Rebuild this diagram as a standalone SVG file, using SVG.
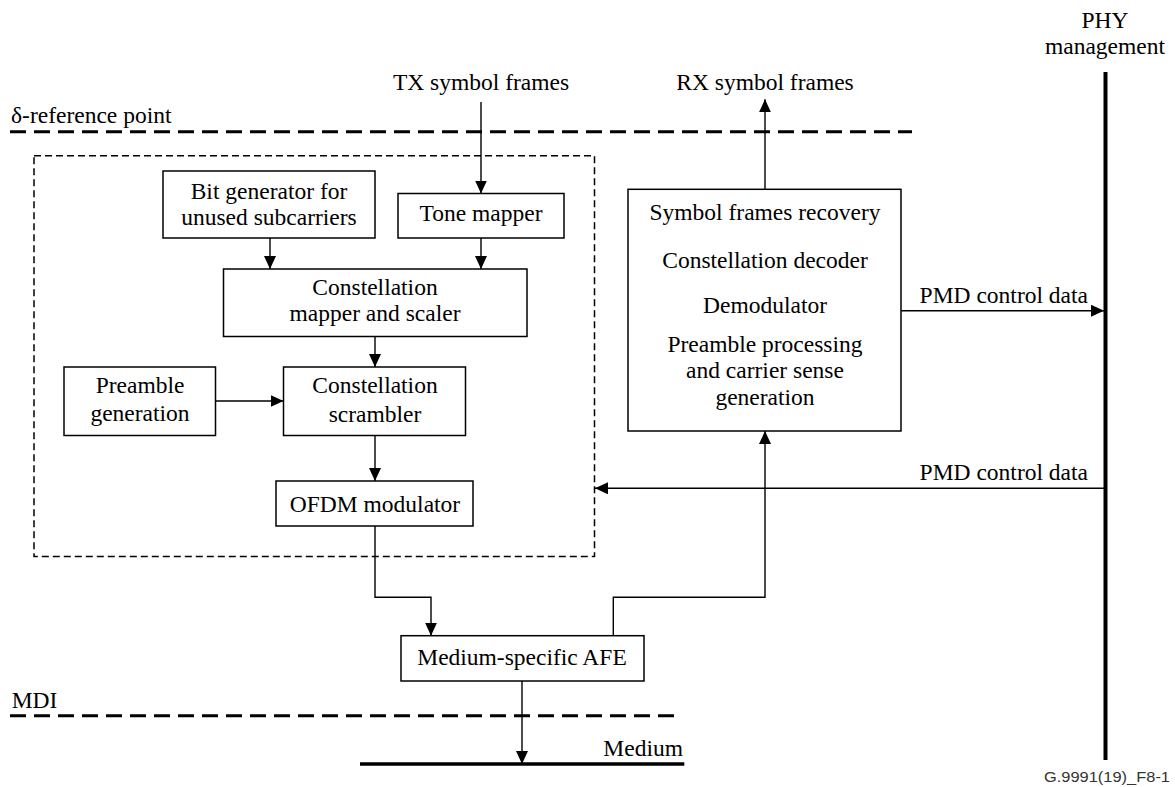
<svg xmlns="http://www.w3.org/2000/svg" width="1175" height="787" viewBox="0 0 1175 787" font-family="'Liberation Serif', 'DejaVu Serif', serif">
<style>
text{font-family:"Liberation Serif","Times New Roman","DejaVu Serif",serif;font-size:23.5px;fill:#000}
.c{text-anchor:middle}
.box{fill:#fff;stroke:#000;stroke-width:1.5}
.ln{fill:none;stroke:#000;stroke-width:1.4}
.arr{marker-end:url(#ah)}
.dash{fill:none;stroke:#000;stroke-width:3;stroke-dasharray:16 8}
.idash{fill:none;stroke:#000;stroke-width:1.5;stroke-dasharray:7 4}
text.fig{font-family:"Liberation Sans",Arial,sans-serif;font-size:14px;fill:#333}
</style>
<defs>
<marker id="ah" markerUnits="userSpaceOnUse" markerWidth="14" markerHeight="12" refX="13" refY="6" orient="auto">
<path d="M0,0 L13,6 L0,12 z" fill="#000"/>
</marker>
</defs>

<g id="reference-lines">
<line class="dash" x1="10" y1="131.7" x2="912" y2="131.7"/>
<text x="11" y="123">δ-reference point</text>
<line class="dash" x1="10" y1="715.7" x2="680" y2="715.7"/>
<text x="11.7" y="708">MDI</text>
<line x1="360" y1="764" x2="684.3" y2="764" stroke="#000" stroke-width="3.5"/>
<text x="683" y="755.7" text-anchor="end">Medium</text>
<line x1="1105.5" y1="72" x2="1105.5" y2="760" stroke="#000" stroke-width="4"/>
<text class="c" x="1105" y="28">PHY</text>
<text class="c" x="1105" y="54">management</text>
<text class="c" x="481" y="90">TX symbol frames</text>
<text class="c" x="765" y="90">RX symbol frames</text>
<rect class="idash" x="34" y="155.7" width="560.5" height="400.8"/>
<text class="fig" x="1170" y="782" text-anchor="end" textLength="126" lengthAdjust="spacingAndGlyphs">G.9991(19)_F8-1</text>
</g>

<g id="connectors">
<line class="ln arr" x1="481" y1="102" x2="481" y2="193.5"/>
<line class="ln arr" x1="765" y1="189.3" x2="765" y2="99.3"/>
<line class="ln arr" x1="270" y1="238" x2="270" y2="269"/>
<line class="ln arr" x1="481" y1="238" x2="481" y2="269"/>
<line class="ln arr" x1="375" y1="336.5" x2="375" y2="367"/>
<line class="ln arr" x1="215.5" y1="401" x2="283.5" y2="401"/>
<line class="ln arr" x1="375" y1="435.5" x2="375" y2="481"/>
<polyline class="ln arr" points="375,526 375,597.3 431,597.3 431,635.7"/>
<polyline class="ln arr" points="613.3,635.7 613.3,597.3 765,597.3 765,431"/>
<line class="ln arr" x1="522" y1="681" x2="522" y2="764"/>
<line class="ln arr" x1="901" y1="310.7" x2="1104" y2="310.7"/>
<text x="1088" y="303" text-anchor="end">PMD control data</text>
<line class="ln arr" x1="1104" y1="488.3" x2="595" y2="488.3"/>
<text x="1088" y="480" text-anchor="end">PMD control data</text>
</g>

<g id="bit-generator">
<rect class="box" x="163" y="171" width="212" height="67"/>
<text class="c" x="269" y="198.5">Bit generator for</text>
<text class="c" x="269" y="225">unused subcarriers</text>
</g>

<g id="tone-mapper">
<rect class="box" x="398" y="193.5" width="166" height="44.5"/>
<text class="c" x="481" y="220.7">Tone mapper</text>
</g>

<g id="constellation-mapper">
<rect class="box" x="223.5" y="269" width="303.5" height="67.5"/>
<text class="c" x="375" y="295">Constellation</text>
<text class="c" x="375" y="321">mapper and scaler</text>
</g>

<g id="preamble-generation">
<rect class="box" x="64" y="367" width="151.5" height="68.5"/>
<text class="c" x="140" y="393">Preamble</text>
<text class="c" x="140" y="421">generation</text>
</g>

<g id="constellation-scrambler">
<rect class="box" x="283.5" y="367" width="182" height="68.5"/>
<text class="c" x="375" y="393">Constellation</text>
<text class="c" x="375" y="421.5">scrambler</text>
</g>

<g id="ofdm-modulator">
<rect class="box" x="276" y="481" width="197" height="45"/>
<text class="c" x="375" y="511.7">OFDM modulator</text>
</g>

<g id="rx-block">
<rect class="box" x="628" y="189.3" width="273" height="241.7"/>
<text class="c" x="765" y="220">Symbol frames recovery</text>
<text class="c" x="765" y="268">Constellation decoder</text>
<text class="c" x="765" y="313">Demodulator</text>
<text class="c" x="765" y="352">Preamble processing</text>
<text class="c" x="765" y="378">and carrier sense</text>
<text class="c" x="765" y="405">generation</text>
</g>

<g id="afe">
<rect class="box" x="401" y="635.7" width="243" height="45.3"/>
<text class="c" x="522" y="665">Medium-specific AFE</text>
</g>
</svg>
